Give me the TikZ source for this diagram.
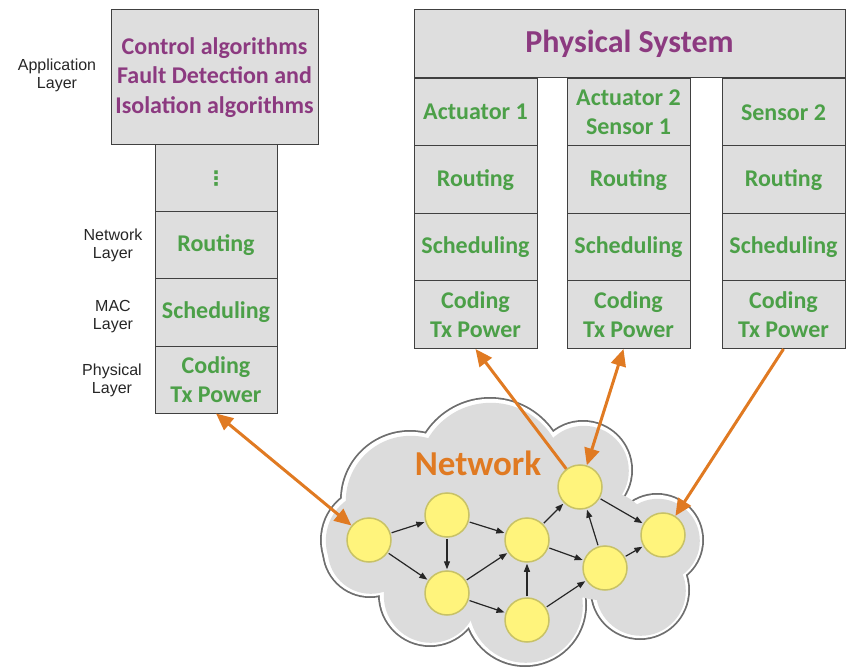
\documentclass[tikz,border=0pt]{standalone}
\usepackage{fontspec}
\setmainfont{Carlito}
\newfontfamily\labelfont{Liberation Sans}
\newfontfamily\symbolfont{DejaVu Sans}
\usetikzlibrary{arrows.meta}

\definecolor{boxgray}{HTML}{DEDEDE}
\definecolor{boxline}{HTML}{404040}
\definecolor{purpletext}{HTML}{8C3A80}
\definecolor{greentext}{HTML}{4CA048}
\definecolor{linkorange}{HTML}{E07A22}
\definecolor{nodeyellow}{HTML}{FFF47C}
\definecolor{nodering}{HTML}{C8C266}
\definecolor{cloudfill}{HTML}{DCDCDC}
\definecolor{cloudedge}{HTML}{6E6E6E}

\tikzset{
  layerbox/.style={draw=boxline, fill=boxgray, line width=1pt, inner sep=0pt,
    align=center, text=greentext, font=\bfseries\fontsize{24}{29.5}\selectfont},
  colbox/.style={layerbox, minimum width=123pt, minimum height=67.5pt},
  stackbox/.style={layerbox, minimum width=122pt, minimum height=67pt},
  sidelabel/.style={align=center, font=\labelfont\fontsize{16}{18}\selectfont, text=black!85},
  hop/.style={circle, draw=nodering, fill=nodeyellow, line width=1.5pt, minimum size=44pt, inner sep=0pt},
  flow/.style={-{Triangle[length=8pt,width=6pt]}, line width=1.2pt, black!85, shorten >=1pt, shorten <=1pt},
  link/.style={line width=3pt, linkorange},
}

\begin{document}
\begin{tikzpicture}[x=1pt,y=-1pt]
\useasboundingbox (0,0) rectangle (849,671);

% ---------- cloud: outer bumps (edge, highlight, body) plus inner filler discs ----------
\def\cloudparts{490/475/78, 410/500/70, 375/540/55, 370/550/48, 583/470/50, 657/540/47, 640/590/50, 525/605/62, 430/595/52}
\def\cloudcore{520/540/85, 600/545/55, 450/560/60}
\foreach \cx/\cy/\rad in \cloudparts
  \fill[cloudedge] (\cx,\cy) circle[radius=\rad];
\foreach \cx/\cy/\rad in \cloudparts
  \fill[white] (\cx,\cy) circle[radius=\rad-1.8];
\foreach \cx/\cy/\rad in \cloudparts
  \fill[cloudfill] (\cx+0.8,\cy+0.8) circle[radius=\rad-5];
\foreach \cx/\cy/\rad in \cloudcore
  \fill[cloudfill] (\cx,\cy) circle[radius=\rad];

\node[text=linkorange, font=\bfseries\fontsize{35}{40}\selectfont] (nettitle) at (478,463) {Network};

% ---------- protocol stack of one device ----------
\node[layerbox, minimum width=207pt, minimum height=135pt, text=purpletext] (app) at (214.5,77.5)
  {Control algorithms\\Fault Detection and\\Isolation algorithms};
\node[stackbox, font=\symbolfont\bfseries\fontsize{20}{24}\selectfont] (ldots) at (216,178.5) {⋮};
\node[stackbox] (lroute) at (216,245.5) {Routing};
\node[stackbox] (lsched) at (216,312.5) {Scheduling};
\node[stackbox] (lcode) at (216,379.5) {Coding\\Tx Power};

\node[sidelabel] (applbl) at (57,75) {Application\\Layer};
\node[sidelabel] (netlbl) at (113,245) {Network\\Layer};
\node[sidelabel] (maclbl) at (113,317) {MAC\\Layer};
\node[sidelabel] (phylbl) at (112,380) {Physical\\Layer};

% ---------- physical system and its three devices ----------
\node[layerbox, minimum width=431pt, minimum height=68pt, text=purpletext,
      font=\bfseries\fontsize{32}{36}\selectfont] (phys) at (629.5,44) {Physical System};

\node[colbox] (aa) at (475.5,112.25) {Actuator 1};
\node[colbox] (ar) at (475.5,179.75) {Routing};
\node[colbox] (as) at (475.5,247.25) {Scheduling};
\node[colbox] (ac) at (475.5,314.75) {Coding\\Tx Power};

\node[colbox] (ba) at (628.5,112.25) {Actuator 2\\Sensor 1};
\node[colbox] (br) at (628.5,179.75) {Routing};
\node[colbox] (bs) at (628.5,247.25) {Scheduling};
\node[colbox] (bc) at (628.5,314.75) {Coding\\Tx Power};

\node[colbox] (ca) at (783.5,112.25) {Sensor 2};
\node[colbox] (cr) at (783.5,179.75) {Routing};
\node[colbox] (cs) at (783.5,247.25) {Scheduling};
\node[colbox] (cc) at (783.5,314.75) {Coding\\Tx Power};

% ---------- network nodes ----------
\node[hop] (n1) at (369,540) {};
\node[hop] (n2) at (447,515) {};
\node[hop] (n3) at (447,593) {};
\node[hop] (n4) at (527,540) {};
\node[hop] (n5) at (527,620) {};
\node[hop] (n6) at (580,487) {};
\node[hop] (n7) at (605,568) {};
\node[hop] (n8) at (663,535) {};

\draw[flow] (n1) -- (n2);
\draw[flow] (n1) -- (n3);
\draw[flow] (n2) -- (n3);
\draw[flow] (n2) -- (n4);
\draw[flow] (n3) -- (n4);
\draw[flow] (n3) -- (n5);
\draw[flow] (n5) -- (n4);
\draw[flow] (n5) -- (n7);
\draw[flow] (n4) -- (n6);
\draw[flow] (n4) -- (n7);
\draw[flow] (n7) -- (n6);
\draw[flow] (n6) -- (n8);
\draw[flow] (n7) -- (n8);

% ---------- radio links between devices and the network ----------
\draw[link, {Triangle[length=17pt,width=15pt]}-{Triangle[length=17pt,width=15pt]}] (lcode.south) -- (n1);
\draw[link, -{Triangle[length=17pt,width=15pt]}] (n6) -- (ac.south);
\draw[link, {Triangle[length=17pt,width=15pt]}-{Triangle[length=17pt,width=15pt]}] ([xshift=-5pt]bc.south) -- (n6);
\draw[link, -{Triangle[length=17pt,width=15pt]}] (cc.south) -- (n8);
\end{tikzpicture}
\end{document}
